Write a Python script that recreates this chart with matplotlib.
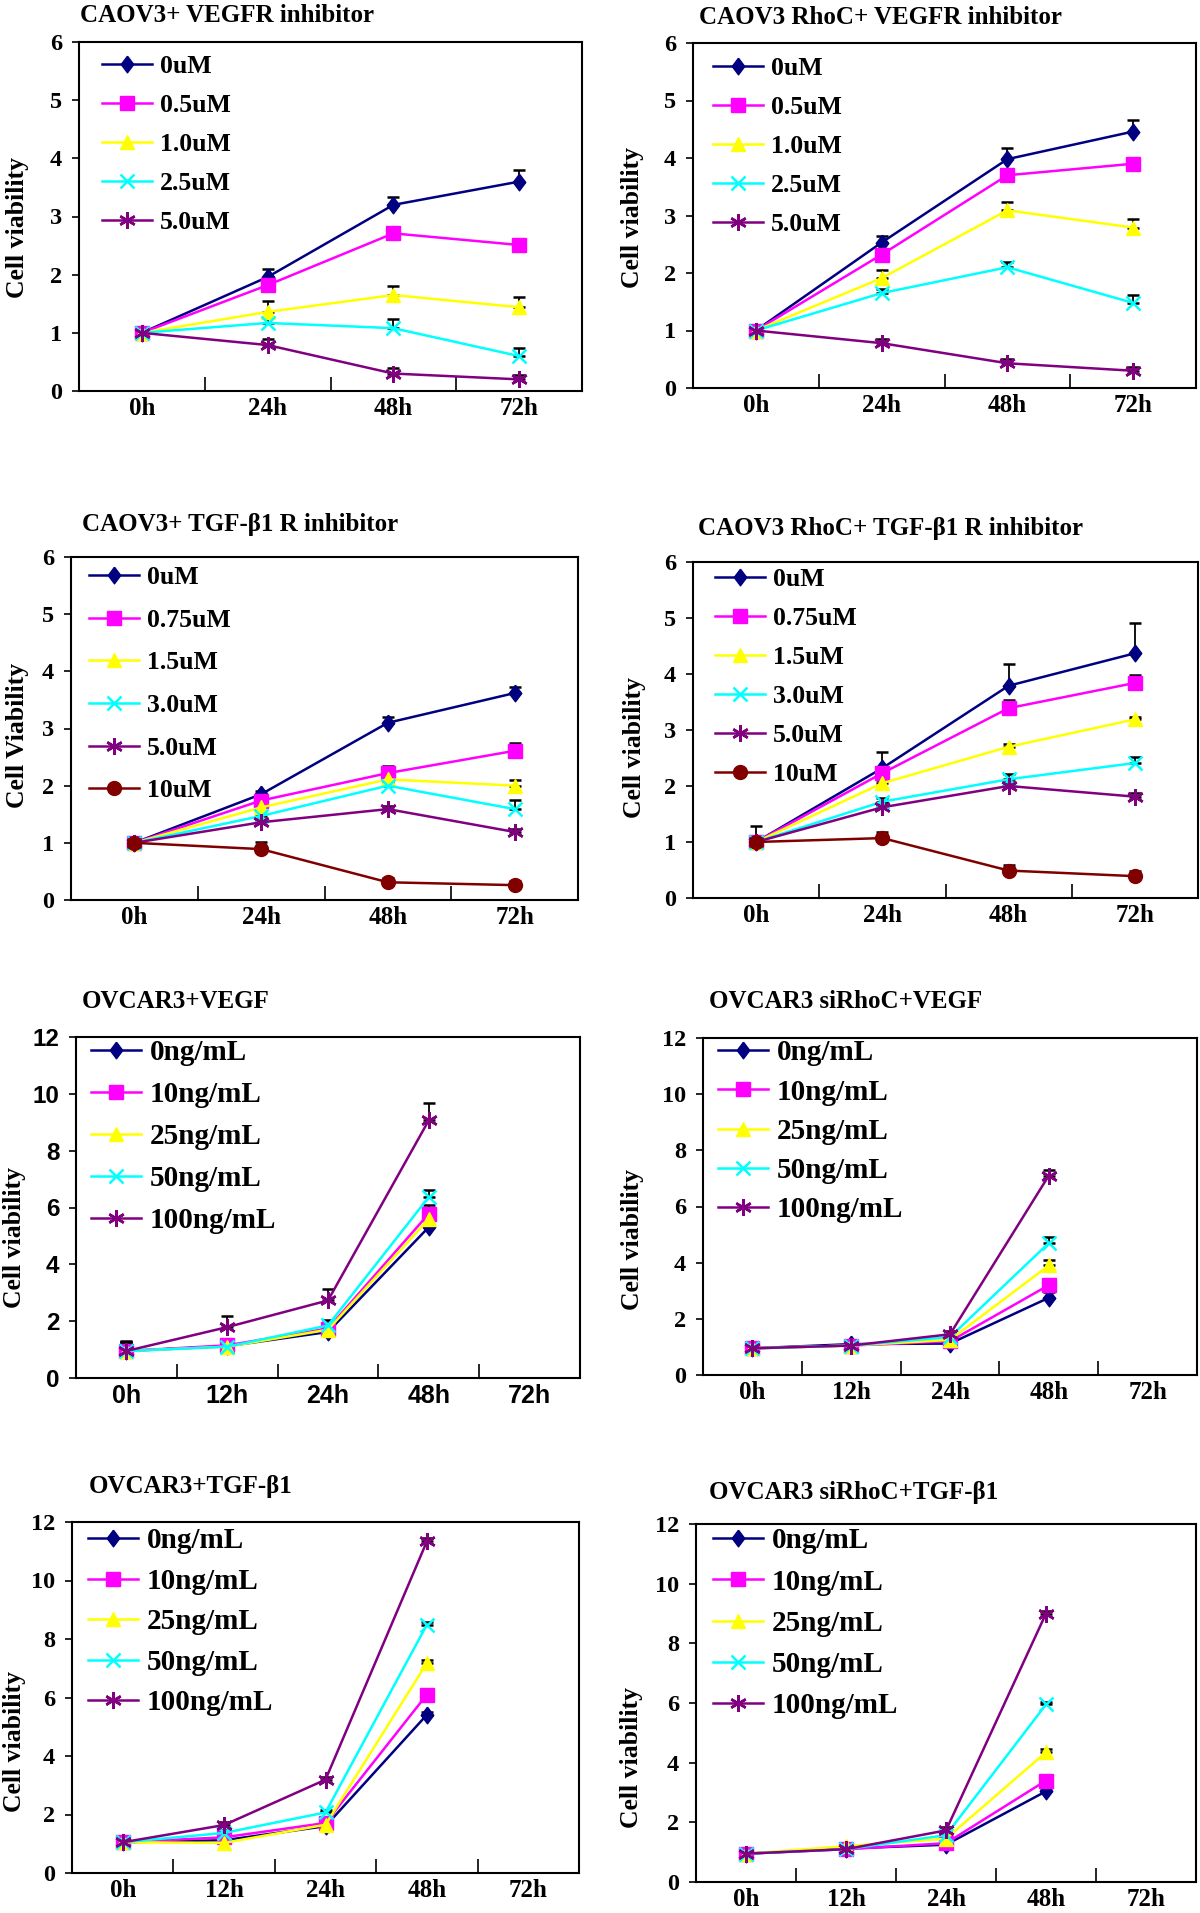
import numpy as np
import matplotlib.pyplot as plt

plt.rcParams['font.family'] = ['Liberation Serif', 'DejaVu Serif']
plt.rcParams['font.weight'] = 'bold'

W, H = 1200, 1913

# ---- data ----
hours4 = ['0h', '24h', '48h', '72h']
hours5 = ['0h', '12h', '24h', '48h', '72h']

# CAOV3+ VEGFR inhibitor
p1_labels = ['0uM', '0.5uM', '1.0uM', '2.5uM', '5.0uM']
p1_vals = [[1.0, 1.96, 3.2, 3.6],
           [1.0, 1.82, 2.71, 2.51],
           [1.0, 1.36, 1.65, 1.44],
           [1.0, 1.17, 1.08, 0.6],
           [1.0, 0.79, 0.3, 0.2]]
p1_err = [[0.05, 0.14, 0.14, 0.2],
          [0.05, 0.1, 0.1, 0.1],
          [0.04, 0.18, 0.15, 0.18],
          [0.04, 0.08, 0.15, 0.14],
          [0.04, 0.1, 0.1, 0.08]]

# CAOV3 RhoC+ VEGFR inhibitor
p2_labels = ['0uM', '0.5uM', '1.0uM', '2.5uM', '5.0uM']
p2_vals = [[1.0, 2.53, 3.98, 4.46],
           [1.0, 2.32, 3.7, 3.9],
           [1.0, 1.91, 3.09, 2.79],
           [1.0, 1.65, 2.1, 1.48],
           [1.0, 0.78, 0.43, 0.3]]
p2_err = [[0.05, 0.12, 0.2, 0.2],
          [0.05, 0.1, 0.1, 0.07],
          [0.04, 0.15, 0.15, 0.15],
          [0.04, 0.08, 0.1, 0.14],
          [0.04, 0.08, 0.07, 0.07]]

# CAOV3+ TGF-b1 R inhibitor
p3_labels = ['0uM', '0.75uM', '1.5uM', '3.0uM', '5.0uM', '10uM']
p3_vals = [[1.0, 1.85, 3.1, 3.62],
           [1.0, 1.74, 2.22, 2.61],
           [1.0, 1.62, 2.11, 2.0],
           [1.0, 1.47, 2.0, 1.59],
           [1.0, 1.36, 1.59, 1.19],
           [1.0, 0.89, 0.31, 0.26]]
p3_err = [[0.05, 0.06, 0.1, 0.1],
          [0.05, 0.06, 0.12, 0.13],
          [0.04, 0.05, 0.08, 0.1],
          [0.04, 0.05, 0.06, 0.16],
          [0.04, 0.05, 0.06, 0.05],
          [0.04, 0.12, 0.07, 0.08]]

# CAOV3 RhoC+ TGF-b1 R inhibitor
p4_labels = ['0uM', '0.75uM', '1.5uM', '3.0uM', '5.0uM', '10uM']
p4_vals = [[1.0, 2.32, 3.79, 4.37],
           [1.0, 2.23, 3.39, 3.84],
           [1.0, 2.05, 2.7, 3.19],
           [1.0, 1.72, 2.12, 2.41],
           [1.0, 1.62, 2.0, 1.81],
           [1.0, 1.07, 0.49, 0.39]]
p4_err = [[0.28, 0.28, 0.39, 0.54],
          [0.05, 0.08, 0.15, 0.14],
          [0.04, 0.05, 0.05, 0.05],
          [0.04, 0.06, 0.1, 0.1],
          [0.04, 0.07, 0.07, 0.07],
          [0.04, 0.1, 0.1, 0.1]]

# OVCAR3+VEGF
p5_labels = ['0ng/mL', '10ng/mL', '25ng/mL', '50ng/mL', '100ng/mL']
p5_vals = [[0.95, 1.12, 1.62, 5.31],
           [0.95, 1.15, 1.74, 5.78],
           [0.95, 1.1, 1.7, 5.6],
           [0.95, 1.1, 1.85, 6.37],
           [0.95, 1.79, 2.73, 9.07]]
p5_err = [[0.3, 0.2, 0.2, 0.3],
          [0.3, 0.2, 0.2, 0.3],
          [0.3, 0.2, 0.2, 0.3],
          [0.3, 0.2, 0.2, 0.25],
          [0.36, 0.4, 0.4, 0.6]]

# OVCAR3 siRhoC+VEGF
p6_labels = ['0ng/mL', '10ng/mL', '25ng/mL', '50ng/mL', '100ng/mL']
p6_vals = [[0.95, 1.1, 1.12, 2.75],
           [0.95, 1.05, 1.2, 3.2],
           [0.95, 1.05, 1.25, 3.9],
           [0.95, 1.05, 1.35, 4.7],
           [0.95, 1.05, 1.45, 7.1]]
p6_err = [[0.2, 0.15, 0.1, 0.2],
          [0.2, 0.15, 0.1, 0.2],
          [0.2, 0.15, 0.1, 0.2],
          [0.2, 0.15, 0.1, 0.2],
          [0.2, 0.15, 0.1, 0.2]]

# OVCAR3+TGF-b1
p7_labels = ['0ng/mL', '10ng/mL', '25ng/mL', '50ng/mL', '100ng/mL']
p7_vals = [[1.05, 1.12, 1.6, 5.41],
           [1.05, 1.22, 1.71, 6.1],
           [1.05, 1.03, 1.65, 7.18],
           [1.05, 1.37, 2.07, 8.49],
           [1.05, 1.64, 3.19, 11.34]]
p7_err = [[0.1, 0.1, 0.1, 0.1],
          [0.1, 0.1, 0.1, 0.1],
          [0.1, 0.1, 0.1, 0.1],
          [0.1, 0.1, 0.1, 0.1],
          [0.1, 0.1, 0.1, 0.1]]

# OVCAR3 siRhoC+TGF-b1
p8_labels = ['0ng/mL', '10ng/mL', '25ng/mL', '50ng/mL', '100ng/mL']
p8_vals = [[0.95, 1.12, 1.25, 3.04],
           [0.95, 1.1, 1.3, 3.4],
           [0.95, 1.2, 1.45, 4.35],
           [0.95, 1.1, 1.57, 5.95],
           [0.95, 1.1, 1.73, 9.0]]
p8_err = [[0.1, 0.1, 0.1, 0.1],
          [0.1, 0.1, 0.1, 0.1],
          [0.1, 0.1, 0.1, 0.1],
          [0.1, 0.1, 0.1, 0.1],
          [0.1, 0.1, 0.1, 0.1]]

colors = ['#000080', '#FF00FF', '#FFFF00', '#00FFFF', '#800080', '#800000']
diamond = [(0, 1), (0.75, 0), (0, -1), (-0.75, 0), (0, 1)]
markers = [diamond, 's', '^', 'x', (6, 2, 0), 'o']
msizes = [12, 9.5, 10.5, 10, 12, 10]

panels = [
    dict(title='CAOV3+ VEGFR inhibitor', cats=hours4, labels=p1_labels, vals=p1_vals, err=p1_err,
         box=(79, 42, 582, 391), tpos=(80, 15), ylab='Cell viability', ylpos=(18, 227), ymax=6, ystep=1,
         leg=(102, 65), legfs=18.5, legsp=39.6, tickfont='serif'),
    dict(title='CAOV3 RhoC+ VEGFR inhibitor', cats=hours4, labels=p2_labels, vals=p2_vals, err=p2_err,
         box=(693, 43, 1196, 388), tpos=(699, 17), ylab='Cell viability', ylpos=(633, 217), ymax=6, ystep=1,
         leg=(713, 67), legfs=18.5, legsp=39.6, tickfont='serif'),
    dict(title='CAOV3+ TGF-\u03b21 R inhibitor', cats=hours4, labels=p3_labels, vals=p3_vals, err=p3_err,
         box=(71, 557, 578, 900), tpos=(82, 525), ylab='Cell Viability', ylpos=(18, 735), ymax=6, ystep=1,
         leg=(89, 576), legfs=18.5, legsp=43.3, tickfont='serif'),
    dict(title='CAOV3 RhoC+ TGF-\u03b21 R inhibitor', cats=hours4, labels=p4_labels, vals=p4_vals, err=p4_err,
         box=(693, 562, 1198, 898), tpos=(698, 528), ylab='Cell viability', ylpos=(634, 747), ymax=6, ystep=1,
         leg=(715, 578), legfs=18.5, legsp=39.7, tickfont='serif'),
    dict(title='OVCAR3+VEGF', cats=hours5, labels=p5_labels, vals=p5_vals, err=p5_err,
         box=(76, 1037, 580, 1378), tpos=(82, 1002), ylab='Cell viability', ylpos=(15, 1237), ymax=12, ystep=2,
         leg=(91, 1051), legfs=21, legsp=41.8, tickfont='sans'),
    dict(title='OVCAR3 siRhoC+VEGF', cats=hours5, labels=p6_labels, vals=p6_vals, err=p6_err,
         box=(703, 1038, 1197, 1375), tpos=(709, 1002), ylab='Cell viability', ylpos=(633, 1239), ymax=12, ystep=2,
         leg=(718, 1051), legfs=21, legsp=39, tickfont='serif'),
    dict(title='OVCAR3+TGF-\u03b21', cats=hours5, labels=p7_labels, vals=p7_vals, err=p7_err,
         box=(72, 1522, 579, 1873), tpos=(89, 1487), ylab='Cell viability', ylpos=(15, 1742), ymax=12, ystep=2,
         leg=(88, 1539), legfs=21, legsp=40.3, tickfont='serif'),
    dict(title='OVCAR3 siRhoC+TGF-\u03b21', cats=hours5, labels=p8_labels, vals=p8_vals, err=p8_err,
         box=(696, 1524, 1196, 1882), tpos=(709, 1492), ylab='Cell viability', ylpos=(632, 1757), ymax=12, ystep=2,
         leg=(713, 1539), legfs=21, legsp=41, tickfont='serif'),
]

fig = plt.figure(figsize=(W / 100, H / 100), dpi=100)

for p in panels:
    l, t, r, b = p['box']
    ax = fig.add_axes([l / W, 1 - b / H, (r - l) / W, (b - t) / H])
    n = len(p['cats'])
    handles = []
    for i, (lab, v, e) in enumerate(zip(p['labels'], p['vals'], p['err'])):
        x = np.arange(len(v))
        v = np.array(v)
        e = np.array(e)
        ax.errorbar(x, v, yerr=[np.zeros_like(e), e], fmt='none', ecolor='black',
                    elinewidth=1.3, capsize=4.5, capthick=1.8, zorder=3)
        mk = markers[i]
        line_mk = mk == 'x' or isinstance(mk, tuple)
        h, = ax.plot(x, v, color=colors[i], lw=1.8, marker=mk, ms=msizes[i],
                     mec=colors[i], mew=1.8 if line_mk else 1, zorder=4, label=lab)
        handles.append(h)

    ax.set_xlim(-0.5, n - 0.5)
    ax.set_ylim(0, p['ymax'])
    ax.set_xticks(np.arange(n))
    ax.set_xticks(np.arange(n - 1) + 0.5, minor=True)
    ax.set_yticks(np.arange(0, p['ymax'] + 1, p['ystep']))
    ax.tick_params(axis='x', which='major', length=0, pad=4)
    ax.tick_params(axis='x', which='minor', direction='in', length=10, width=1.2)
    ax.tick_params(axis='y', direction='out', length=5, width=1.2, pad=7)
    if p['tickfont'] == 'sans':
        tfam = ['Liberation Sans', 'DejaVu Sans']
    else:
        tfam = ['Liberation Serif', 'DejaVu Serif']
    ax.set_xticklabels(p['cats'], fontsize=18, fontweight='bold', family=tfam)
    ax.set_yticklabels([str(int(y)) for y in ax.get_yticks()], fontsize=17.5, fontweight='bold', family=tfam)
    for s in ax.spines.values():
        s.set_linewidth(1.5)
        s.set_color('black')

    fs = p['legfs']
    fs_px = fs * 100 / 72
    ls = (p['legsp'] - 0.92 * fs_px) / fs_px
    hx, hy = p['leg']
    hl = 50 / fs_px
    ax.legend(handles=handles, loc='upper left', frameon=False, prop=dict(size=fs, weight='bold'),
              handlelength=hl, handletextpad=0.3, labelspacing=ls, borderpad=0, borderaxespad=0,
              bbox_to_anchor=(hx / W, 1 - (hy + 3 - fs_px * 0.5) / H), bbox_transform=fig.transFigure)

    tx, ty = p['tpos']
    fig.text(tx / W, 1 - ty / H, p['title'], fontsize=18, fontweight='bold', ha='left', va='center')
    yx, yy = p['ylpos']
    fig.text(yx / W, 1 - yy / H, p['ylab'], fontsize=18.5, fontweight='bold', rotation=90,
             ha='center', va='center')

fig.savefig('out.png', dpi=100)
